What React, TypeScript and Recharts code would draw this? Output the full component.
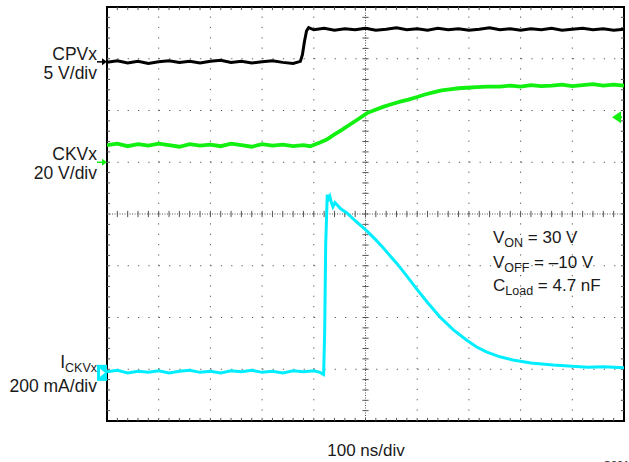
import React from 'react';
import { LineChart, Line, XAxis, YAxis, ReferenceLine, ReferenceArea, ReferenceDot } from 'recharts';

// time in divisions (100 ns/div), level in divisions from screen centre
const cpvTrace: [number, number][] = [
  [0, 2.93], [0.2, 2.96], [0.4, 2.92], [0.6, 2.95], [0.8, 2.91], [1.0, 2.94], [1.2, 2.96], [1.4, 2.93],
  [1.6, 2.95], [1.8, 2.92], [2.0, 2.95], [2.2, 2.97], [2.4, 2.93], [2.6, 2.95], [2.8, 2.92], [3.0, 2.94],
  [3.2, 2.96], [3.4, 2.93], [3.6, 2.91], [3.74, 2.95], [3.78, 3.08], [3.82, 3.34], [3.86, 3.54], [3.9, 3.6],
  [4.0, 3.56], [4.2, 3.59], [4.4, 3.55], [4.6, 3.58], [4.8, 3.56], [5.0, 3.59], [5.2, 3.55], [5.4, 3.57],
  [5.6, 3.6], [5.8, 3.56], [6.0, 3.58], [6.2, 3.55], [6.4, 3.59], [6.6, 3.56], [6.8, 3.58], [7.0, 3.55],
  [7.2, 3.57], [7.4, 3.6], [7.6, 3.56], [7.8, 3.58], [8.0, 3.55], [8.2, 3.58], [8.4, 3.56], [8.6, 3.59],
  [8.8, 3.55], [9.0, 3.57], [9.2, 3.59], [9.4, 3.56], [9.6, 3.58], [9.8, 3.55], [10, 3.57],
];

const ckvTrace: [number, number][] = [
  [0, 1.33], [0.2, 1.36], [0.4, 1.31], [0.6, 1.35], [0.8, 1.32], [1.0, 1.36], [1.2, 1.33], [1.4, 1.3],
  [1.6, 1.35], [1.8, 1.32], [2.0, 1.34], [2.2, 1.31], [2.4, 1.36], [2.6, 1.33], [2.8, 1.3], [3.0, 1.35],
  [3.2, 1.32], [3.4, 1.34], [3.6, 1.31], [3.8, 1.33], [3.93, 1.31], [4.12, 1.38], [4.25, 1.44], [4.37, 1.52],
  [4.55, 1.63], [4.7, 1.73], [4.87, 1.84], [5.03, 1.95], [5.18, 2.01], [5.34, 2.07], [5.5, 2.12], [5.67, 2.17],
  [5.83, 2.21], [6.0, 2.26], [6.15, 2.31], [6.31, 2.35], [6.47, 2.39], [6.63, 2.41], [6.8, 2.43], [6.96, 2.44],
  [7.15, 2.45], [7.35, 2.46], [7.6, 2.46], [7.8, 2.48], [8.0, 2.46], [8.2, 2.49], [8.4, 2.47], [8.6, 2.48],
  [8.8, 2.5], [9.0, 2.47], [9.2, 2.49], [9.4, 2.51], [9.6, 2.48], [9.8, 2.5], [10, 2.48],
];

const ickvTrace: [number, number][] = [
  [0, -3.05], [0.2, -3.02], [0.4, -3.07], [0.6, -3.04], [0.8, -3.06], [1.0, -3.03], [1.2, -3.07], [1.4, -3.04],
  [1.6, -3.02], [1.8, -3.06], [2.0, -3.04], [2.2, -3.07], [2.4, -3.03], [2.6, -3.05], [2.8, -3.02], [3.0, -3.06],
  [3.2, -3.04], [3.4, -3.07], [3.6, -3.03], [3.8, -3.05], [4.0, -3.03], [4.12, -3.06], [4.19, -3.1], [4.21, -2.3],
  [4.23, -0.6], [4.26, 0.37], [4.29, 0.3], [4.31, 0.34], [4.34, 0.22], [4.37, 0.14], [4.41, 0.22], [4.44, 0.19],
  [4.52, 0.1], [4.64, 0.02], [4.8, -0.13], [5.03, -0.33], [5.2, -0.5], [5.35, -0.66], [5.47, -0.8], [5.61, -0.96],
  [5.8, -1.2], [6.0, -1.46], [6.2, -1.71], [6.44, -1.99], [6.7, -2.24], [6.96, -2.44], [7.15, -2.57], [7.35, -2.67],
  [7.6, -2.76], [7.85, -2.82], [8.2, -2.88], [8.63, -2.92], [9.0, -2.94], [9.3, -2.96], [9.6, -2.95], [10, -2.97],
];

// channel reference markers (divisions)
const cpvGround = 2.94;
const ckvGround = 1.0;
const ickvGround = -3.07;
const ckvTrigger = 1.87;

const majorX = [1, 2, 3, 4, 6, 7, 8, 9];
const majorY = [-3, -2, -1, 1, 2, 3];
const minorX = Array.from({ length: 49 }, (_, i) => (i + 1) * 0.2);
const minorY = Array.from({ length: 39 }, (_, i) => -4 + (i + 1) * 0.2);

const toRows = (pts: [number, number][]) => pts.map(([t, v]) => ({ t, v }));

const W = 629;
const H = 462;
const FONT = "'Liberation Sans', Arial, Helvetica, sans-serif";
const GRID = '#555';

const RightArrow = ({ cx, cy, color }: any) => (
  <g>
    <line x1={cx - 10} y1={cy} x2={cx - 3} y2={cy} stroke={color} strokeWidth={1.5} />
    <path d={`M${cx - 5},${cy - 3.5} L${cx},${cy} L${cx - 5},${cy + 3.5} Z`} fill={color} />
  </g>
);

const LeftArrow = ({ cx, cy, color }: any) => (
  <g>
    <line x1={cx - 2} y1={cy} x2={cx - 8} y2={cy} stroke={color} strokeWidth={2} />
    <path d={`M${cx - 3},${cy - 6} L${cx - 12},${cy} L${cx - 3},${cy + 6} Z`} fill={color} />
  </g>
);

const CyanBox = ({ cx, cy }: any) => (
  <g>
    <rect x={cx - 10} y={cy - 8} width={10} height={16} fill="#00eeff" />
    <path d={`M${cx - 7},${cy - 4} L${cx - 2},${cy} L${cx - 7},${cy + 4} Z`} fill="#fff" />
  </g>
);

export default function App() {
  return (
    <div style={{ position: 'absolute', left: 0, top: 0, width: W, height: H, background: '#fff' }}>
      <LineChart width={W} height={H} margin={{ top: 7, right: 5, bottom: 41, left: 107 }}>
        <XAxis type="number" dataKey="t" domain={[0, 10]} hide allowDataOverflow />
        <YAxis type="number" domain={[-4, 4]} hide allowDataOverflow />

        {majorX.map((x) => (
          <ReferenceLine key={`mx${x}`} x={x} stroke={GRID} strokeDasharray="1.2 9.14" />
        ))}
        {majorY.map((y) => (
          <ReferenceLine key={`my${y}`} y={y} stroke={GRID} strokeDasharray="1.2 9.15" />
        ))}
        <ReferenceLine x={5} stroke={GRID} strokeDasharray="1 1.5" />
        <ReferenceLine y={0} stroke={GRID} strokeDasharray="1 1.5" />

        {minorX.map((x) => (
          <ReferenceLine key={`cx${x}`} segment={[{ x, y: -0.06 }, { x, y: 0.06 }]} stroke={GRID} />
        ))}
        {minorY.map((y) => (
          <ReferenceLine key={`cy${y}`} segment={[{ x: 4.94, y }, { x: 5.06, y }]} stroke={GRID} />
        ))}
        {minorX.map((x) => (
          <ReferenceLine key={`bx${x}`} segment={[{ x, y: -4 }, { x, y: -3.94 }]} stroke={GRID} />
        ))}
        {minorX.map((x) => (
          <ReferenceLine key={`tx${x}`} segment={[{ x, y: 3.94 }, { x, y: 4 }]} stroke={GRID} />
        ))}
        {minorY.map((y) => (
          <ReferenceLine key={`ly${y}`} segment={[{ x: 0, y }, { x: 0.06, y }]} stroke={GRID} />
        ))}
        {minorY.map((y) => (
          <ReferenceLine key={`ry${y}`} segment={[{ x: 9.94, y }, { x: 10, y }]} stroke={GRID} />
        ))}

        <Line data={toRows(cpvTrace)} dataKey="v" type="linear" stroke="#000" strokeWidth={3} dot={false} activeDot={false} isAnimationActive={false} />
        <Line data={toRows(ckvTrace)} dataKey="v" type="linear" stroke="#11f011" strokeWidth={3.8} dot={false} activeDot={false} isAnimationActive={false} />
        <Line data={toRows(ickvTrace)} dataKey="v" type="linear" stroke="#00eeff" strokeWidth={3} dot={false} activeDot={false} isAnimationActive={false} />

        <ReferenceArea x1={0} x2={10} y1={-4} y2={4} fill="none" stroke="#000" strokeWidth={2} ifOverflow="visible" />

        <ReferenceDot x={0} y={cpvGround} ifOverflow="visible" shape={(p: any) => <RightArrow cx={p.cx} cy={p.cy} color="#000" />} />
        <ReferenceDot x={0} y={ckvGround} ifOverflow="visible" shape={(p: any) => <RightArrow cx={p.cx} cy={p.cy} color="#11f011" />} />
        <ReferenceDot x={0} y={ickvGround} ifOverflow="visible" shape={(p: any) => <CyanBox cx={p.cx} cy={p.cy} />} />
        <ReferenceDot x={10} y={ckvTrigger} ifOverflow="visible" shape={(p: any) => <LeftArrow cx={p.cx} cy={p.cy} color="#11f011" />} />
      </LineChart>

      <svg width={W} height={H} style={{ position: 'absolute', left: 0, top: 0, pointerEvents: 'none' }} fontFamily={FONT} fill="#1a1a1a">
        <text x={97} y={60} textAnchor="end" fontSize={17.5}>CPVx</text>
        <text x={97} y={79} textAnchor="end" fontSize={17.5}>5 V/div</text>
        <text x={97} y={160} textAnchor="end" fontSize={17.5}>CKVx</text>
        <text x={97} y={179} textAnchor="end" fontSize={17.5}>20 V/div</text>
        <text x={97} y={368} textAnchor="end" fontSize={17.5}>
          I<tspan fontSize={12.5} dy={4}>CKVx</tspan>
        </text>
        <text x={97} y={392} textAnchor="end" fontSize={17.5}>200 mA/div</text>

        <text x={493} y={243} fontSize={17}>
          V<tspan fontSize={12.5} dy={4}>ON</tspan><tspan dy={-4}>{' = 30 V'}</tspan>
        </text>
        <text x={493} y={268} fontSize={17}>
          V<tspan fontSize={12.5} dy={4}>OFF</tspan><tspan dy={-4}>{' = \u201310 V'}</tspan>
        </text>
        <text x={493} y={291} fontSize={17}>
          C<tspan fontSize={12.5} dy={4}>Load</tspan><tspan dy={-4}>{' = 4.7 nF'}</tspan>
        </text>

        <text x={366} y={456} textAnchor="middle" fontSize={17}>100 ns/div</text>
        <text x={603} y={469} fontSize={11}>C001</text>
      </svg>
    </div>
  );
}
